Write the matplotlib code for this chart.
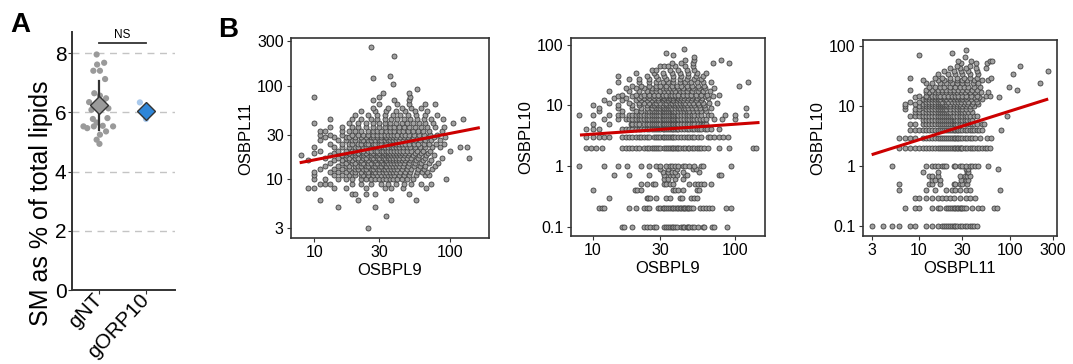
"""
Two-part figure:
  A. SM as % of total lipids, gNT vs gORP10 (strip + mean diamond).
  B. Pairwise OSBPL expression scatter plots on log-log axes with fit line.
"""

import matplotlib

matplotlib.use("Agg")
import matplotlib.pyplot as plt
import numpy as np
from matplotlib.ticker import NullLocator

plt.rcParams["font.family"] = ["Liberation Sans", "DejaVu Sans"]

# ---------------------------------------------------------------------------
# Panel A data
# ---------------------------------------------------------------------------
GROUPS = ["gNT", "gORP10"]
SM_GNT = [7.96, 7.62, 7.68, 7.41, 7.41, 7.13, 6.65, 6.57, 6.48, 6.35, 6.37, 6.14, 6.09,
          5.78, 5.81, 5.66, 5.53, 5.47, 5.53, 5.55, 5.53, 5.36, 5.25, 5.08, 4.94]
SM_GNT_JITTER = [-0.05, -0.04, 0.11, -0.12, 0.02, 0.13, -0.10, 0.02, 0.15, -0.21, 0.09, 0.20, -0.16,
                 -0.13, 0.18, -0.05, -0.33, -0.25, -0.11, 0.08, 0.30, 0.15, 0.02, -0.05, 0.01]
SM_ORP10 = [6.34, 5.78]
SM_ORP10_JITTER = [-0.13, 0.0]
SM_MEAN = [6.26, 6.05]
SM_LOW = [5.40, 5.90]
SM_HIGH = [7.08, 6.20]
NS_LEVEL = 8.35

# ---------------------------------------------------------------------------
# Panel B data: rows of (y value, [x values]) -- expression values are binned
# ---------------------------------------------------------------------------
# OSBPL9 (x) vs OSBPL11 (y)
B1_ROWS = [
    (3, [25]),
    (4, [34]),
    (5, [15, 28]),
    (6, [11, 21, 37, 56]),
    (7, [19, 20, 24, 28, 50]),
    (8, [9, 10, 14, 17, 24, 33, 37, 45, 67]),
    (9, [11, 12, 13, 19, 22, 26, 31, 35, 40, 46, 52, 61, 72]),
    (10, [10, 12, 15, 17, 19, 22, 24, 26, 28, 30, 32, 34, 36, 38, 41, 44, 48, 53, 93]),
    (11, [10, 14, 16, 18, 20, 22, 23, 25, 27, 29, 31, 33, 35, 37, 39, 42, 46, 50, 56, 65, 70]),
    (12, [10, 13, 15, 17, 19, 20, 22, 24, 25, 27, 28, 30, 32, 34, 36, 38, 40, 43, 47, 51, 57, 62, 68]),
    (13, [11, 14, 16, 18, 20, 21, 23, 24, 26, 27, 29, 30, 32, 33, 35, 37, 39, 41, 44, 48, 52, 58, 64, 74]),
    (14, [12, 15, 17, 18, 20, 21, 22, 24, 25, 27, 28, 30, 31, 33, 34, 36, 38, 40, 42, 45, 49, 54, 60, 66, 78]),
    (15, [13, 16, 17, 19, 20, 22, 23, 25, 26, 28, 29, 31, 32, 34, 35, 37, 39, 41, 43, 46, 50, 55, 61, 70, 82]),
    (16, [9, 14, 16, 18, 19, 21, 22, 24, 25, 27, 28, 30, 31, 33, 34, 36, 38, 40, 42, 44, 47, 51, 56, 63, 72]),
    (17, [12, 15, 17, 18, 20, 21, 23, 24, 26, 27, 29, 30, 32, 33, 35, 36, 38, 40, 42, 45, 48, 52, 58, 65, 88, 139]),
    (18, [8, 13, 16, 17, 19, 20, 22, 23, 25, 26, 28, 29, 31, 32, 34, 35, 37, 39, 41, 43, 46, 49, 53, 59, 67, 76]),
    (19, [10, 14, 17, 18, 20, 21, 23, 24, 26, 27, 29, 30, 32, 33, 35, 36, 38, 40, 42, 44, 47, 50, 55, 61, 69]),
    (20, [11, 15, 17, 19, 20, 22, 23, 25, 26, 28, 29, 31, 32, 34, 35, 37, 39, 41, 43, 45, 48, 52, 57, 63, 71, 100]),
    (22, [10, 14, 16, 18, 20, 21, 23, 24, 26, 27, 29, 30, 32, 33, 35, 37, 38, 40, 42, 45, 48, 51, 55, 60, 66, 74, 84, 119, 133]),
    (24, [13, 16, 18, 19, 21, 22, 24, 25, 27, 28, 30, 31, 33, 34, 36, 38, 40, 42, 44, 47, 50, 54, 58, 64, 70, 79, 90]),
    (26, [11, 15, 17, 19, 20, 22, 23, 25, 26, 28, 30, 31, 33, 35, 36, 38, 40, 42, 45, 48, 51, 55, 60, 66, 73, 85]),
    (28, [12, 14, 17, 18, 20, 22, 24, 26, 27, 29, 31, 33, 34, 36, 38, 40, 43, 46, 49, 53, 57, 62, 68, 76, 92]),
    (30, [11, 13, 16, 19, 21, 23, 25, 27, 29, 31, 33, 35, 37, 39, 41, 44, 47, 50, 54, 59, 64, 71, 80]),
    (33, [11, 12, 16, 18, 20, 22, 25, 27, 29, 31, 34, 36, 39, 42, 45, 49, 53, 58, 63, 70, 88]),
    (36, [13, 16, 19, 21, 24, 27, 30, 33, 36, 39, 42, 46, 50, 55, 61, 68, 78, 91]),
    (40, [10, 18, 21, 24, 27, 30, 33, 36, 40, 44, 48, 53, 59, 66, 75, 105]),
    (44, [13, 19, 22, 26, 29, 33, 37, 41, 46, 51, 57, 64, 73, 89, 124]),
    (48, [20, 25, 29, 33, 38, 43, 49, 56, 65, 80]),
    (53, [22, 28, 34, 40, 47, 55, 68]),
    (58, [27, 35, 44, 52, 61]),
    (64, [30, 41, 50, 65, 77]),
    (70, [27, 39, 50]),
    (76, [10, 30, 51]),
    (83, [32, 50]),
    (92, [57]),
    (104, [38]),
    (120, [27]),
    (128, [36]),
    (205, [39]),
    (256, [26]),
]
B1_FIT_X = [7.8, 166]
B1_FIT_Y = [15.0, 35.6]

# OSBPL9 (x) vs OSBPL10 (y)
B2_ROWS = [
    (0.1, [16, 16.5, 19, 23, 24, 25.5, 27, 28, 32, 33, 34, 35, 36, 37, 38, 39.5, 42, 43, 44, 46,
           47, 48, 50, 52, 55, 60, 61, 69, 72, 88]),
    (0.2, [11, 11.5, 12, 18, 20, 23, 24, 25, 29, 30, 31, 32, 33, 34, 35, 36, 37, 38, 39, 40, 41,
           42, 43, 44, 45, 46, 47, 48, 49, 51, 57, 60, 63, 66, 69, 87, 95]),
    (0.3, [13, 24, 24.5, 25.5, 28, 33, 35, 41, 42.5, 49, 52, 54]),
    (0.4, [10, 19.7, 20.5, 21.7, 37, 38, 40, 43, 54, 56]),
    (0.5, [22, 24, 26.5, 27.5, 32, 33, 35, 37, 48, 52.5, 55, 58, 61, 68]),
    (0.6, [32, 34, 38, 43]),
    (0.7, [14, 18, 25, 32, 35, 37, 39, 45, 46, 78, 80]),
    (0.8, [31, 34, 36, 38, 43, 56]),
    (0.9, [30, 34, 39, 51, 53]),
    (1, [8, 12, 15, 17.5, 22, 25, 28, 30, 33, 35, 36, 38, 40, 43, 45, 48, 52, 58, 60, 94]),
    (2, [9, 9.7, 10.5, 11.5, 16, 17, 18, 19, 20, 21, 23, 24, 25, 26, 27, 28, 29, 30, 32, 33, 34,
         35, 36, 37, 38, 39, 40, 41, 43, 45, 47, 48, 50, 52, 54, 56, 58, 61, 65, 78, 92, 135, 142]),
    (3, [9, 10, 11, 12, 13, 16, 17, 18, 19, 20, 21, 22, 23, 24, 25, 27, 28, 29, 30, 31, 32, 33,
         34, 35, 36, 37, 38, 40, 42, 44, 46, 48, 50, 52, 55, 58, 65, 67, 72, 78, 83, 90]),
    (4, [9, 10, 11, 16, 17, 18, 19, 20, 21, 22, 23, 24, 25, 26, 27, 28, 29, 30, 31, 32, 33, 34,
         35, 36, 37, 38, 39, 40, 42, 44, 46, 48, 50, 52, 54, 56, 58, 62, 64, 68, 78]),
    (5, [10, 13, 18.5, 19, 20, 21, 23, 24, 25, 26, 27, 28, 29, 30, 31, 32, 33, 34, 35, 36, 37,
         38, 39, 40, 42, 44, 46, 48, 50, 52, 55, 58, 60, 61, 63]),
    (6, [12, 15, 17, 18, 19, 20, 21, 22, 23, 24, 25, 26, 27, 28, 29, 30, 31, 32, 33, 34, 35, 36,
         37, 38, 39, 40, 42, 44, 46, 48, 50, 52, 54, 57, 60, 63, 72, 82, 100]),
    (7, [8, 10, 13, 15, 16, 18, 19, 20, 21, 22, 23, 24, 25, 26, 27, 28, 29, 30, 31, 32, 33, 34,
         35, 36, 37, 38, 39, 40, 42, 44, 46, 48, 50, 52, 55, 58, 65, 68, 85, 100, 120]),
    (8, [11, 16, 20, 22, 24, 25, 26, 27, 28, 29, 30, 31, 32, 33, 34, 35, 36, 37, 38, 40, 42, 44,
         46, 48, 51, 54, 58, 63]),
    (9, [11, 15, 19, 22, 24, 26, 28, 29, 30, 31, 32, 33, 34, 35, 36, 38, 40, 41, 43, 45, 47, 50,
         53, 57, 62, 68, 121]),
    (10, [10, 15, 19, 21, 24, 26, 27, 29, 30, 31, 33, 34, 35, 37, 38, 40, 42, 44, 46, 49, 52, 56, 61]),
    (11, [13, 18, 21, 23, 25, 27, 28, 30, 32, 33, 35, 36, 38, 39, 41, 43, 45, 48, 51, 55, 60, 66, 75]),
    (12, [12, 16, 20, 22, 24, 26, 28, 29, 31, 33, 34, 36, 37, 39, 41, 43, 46, 49, 53, 58]),
    (13, [14, 17, 21, 23, 25, 27, 29, 31, 32, 34, 35, 37, 39, 40, 42, 44, 47, 50, 54, 59, 65]),
    (14, [15, 19, 22, 24, 26, 28, 30, 32, 33, 35, 37, 38, 40, 42, 45, 48, 51, 56, 62, 70]),
    (15, [16, 20, 23, 25, 27, 29, 31, 33, 35, 36, 38, 40, 43, 46, 49, 53, 58, 64, 78]),
    (17, [13, 18, 21, 24, 26, 28, 30, 32, 34, 36, 38, 41, 43, 46, 50, 55, 60, 67]),
    (19, [17, 20, 23, 26, 28, 31, 33, 35, 37, 40, 43, 47, 51, 56, 62, 72]),
    (21, [19, 22, 25, 28, 30, 33, 36, 39, 42, 46, 50, 55, 61, 107]),
    (24, [15, 21, 25, 28, 31, 34, 37, 41, 45, 49, 54, 60, 68, 125]),
    (27, [18, 21, 25, 29, 33, 37, 41, 46, 52, 58]),
    (30, [15, 24, 28, 32, 37, 42, 47, 53, 60]),
    (34, [20, 27, 31, 36, 41, 47, 54, 63]),
    (38, [26, 28, 35, 40, 46, 52]),
    (44, [30, 32, 34, 38, 45, 51]),
    (50, [36, 42, 51, 71, 91]),
    (55, [45, 52, 80]),
    (63, [52]),
    (67, [37]),
    (73, [33]),
    (85, [44]),
]
B2_FIT_X = [8.1, 150]
B2_FIT_Y = [3.23, 5.2]

# OSBPL11 (x) vs OSBPL10 (y)
B3_ROWS = [
    (0.1, [3, 4, 5, 6, 8, 9, 12, 14, 16, 18, 19, 20, 21, 22, 23, 24, 25, 26, 28, 30, 32, 34, 36, 38, 40, 43]),
    (0.2, [7, 9, 10, 14, 16, 17, 20, 21, 22, 23, 24, 25, 26, 27, 28, 29, 30, 31, 33, 38, 45, 49, 67, 72]),
    (0.3, [9, 10, 12, 14, 16, 18, 20, 22, 24, 28, 33, 36, 41]),
    (0.4, [6, 12, 15, 20, 23, 25, 28, 33, 36, 78]),
    (0.5, [6, 13, 14, 17, 24, 25, 28, 30, 34]),
    (0.6, [14, 15, 17, 29, 33, 35]),
    (0.7, [13, 14, 16, 28, 32, 34, 36]),
    (0.8, [11, 16, 34, 35]),
    (0.9, [33, 35, 75]),
    (1, [5, 12, 14, 15, 16, 18, 19, 20, 24, 25, 28, 30, 33, 36, 38, 41, 45, 57]),
    (2, [6, 7, 8, 9, 10, 11, 12, 13, 14, 15, 16, 17, 18, 19, 20, 21, 22, 23, 24, 25, 26, 27, 28,
         29, 30, 32, 34, 36, 38, 40, 43, 46, 50, 53, 56, 60]),
    (3, [6, 7, 8, 9, 11, 12, 13, 14, 15, 16, 17, 18, 19, 20, 21, 22, 23, 24, 25, 26, 27, 28, 30,
         32, 34, 36, 38, 41, 47, 56, 62]),
    (4, [8, 9, 10, 11, 12, 13, 14, 15, 16, 17, 18, 19, 20, 21, 22, 23, 24, 25, 26, 27, 28, 30,
         32, 34, 36, 38, 40, 43, 46, 50, 79]),
    (5, [8, 9, 11, 12, 13, 14, 15, 16, 17, 18, 19, 20, 21, 22, 23, 24, 25, 26, 28, 30, 32, 34,
         36, 38, 40, 43, 50, 52]),
    (6, [11, 12, 13, 14, 15, 16, 17, 18, 19, 20, 21, 22, 23, 24, 25, 26, 28, 30, 32, 34, 36, 38]),
    (7, [8, 9, 10, 11, 12, 13, 14, 15, 16, 17, 18, 19, 20, 21, 22, 23, 24, 26, 28, 30, 32, 34,
         36, 40, 43, 92]),
    (8, [9, 10, 11, 12, 13, 14, 15, 16, 17, 18, 19, 20, 21, 22, 24, 26, 28, 30, 32, 35, 38]),
    (9, [7, 9, 10, 12, 13, 14, 15, 16, 17, 18, 19, 20, 22, 24, 26, 28, 30, 33, 36]),
    (10, [7, 10, 11, 12, 13, 14, 15, 16, 17, 18, 19, 20, 21, 22, 24, 26, 28, 30, 33, 36, 40]),
    (11, [7, 9, 11, 12, 13, 14, 15, 16, 17, 18, 19, 20, 22, 24, 26, 28, 31, 34, 38, 45]),
    (12, [8, 10, 12, 13, 14, 15, 16, 17, 18, 20, 21, 23, 25, 27, 29, 32, 35, 39, 44]),
    (13, [11, 12, 13, 14, 15, 16, 17, 19, 20, 22, 24, 26, 28, 30, 33, 37, 42, 50]),
    (14, [9, 12, 13, 14, 15, 16, 18, 19, 21, 23, 25, 27, 29, 32, 35, 40, 46, 77]),
    (15, [10, 12, 14, 15, 16, 17, 19, 21, 23, 25, 27, 30, 33, 37, 43, 55, 60]),
    (17, [12, 13, 15, 16, 18, 20, 22, 24, 26, 29, 32, 36, 41, 48, 57]),
    (19, [8, 12, 14, 16, 18, 20, 22, 24, 27, 30, 34, 38, 44, 119]),
    (21, [13, 15, 17, 19, 22, 25, 28, 31, 35, 40, 47, 97]),
    (24, [12, 14, 17, 20, 23, 26, 30, 34, 39, 45, 216]),
    (27, [11, 16, 19, 22, 26, 30, 34, 40, 50, 58]),
    (30, [8, 15, 18, 22, 26, 31, 36, 43, 62]),
    (34, [16, 21, 25, 30, 36, 45, 108]),
    (38, [19, 24, 29, 35, 44, 267]),
    (43, [22, 28, 33, 42, 55]),
    (47, [26, 36, 130]),
    (52, [29, 42, 56]),
    (57, [27, 37, 60, 64]),
    (67, [32]),
    (71, [10]),
    (77, [23]),
    (87, [33]),
]
B3_FIT_X = [3.0, 265]
B3_FIT_Y = [1.56, 13.2]

# ---------------------------------------------------------------------------
# Style
# ---------------------------------------------------------------------------
W, H = 1073, 364
DARK = "#333333"
POINT_FACE = "#a0a0a0"
POINT_EDGE = "#404040"
FIT_RED = "#cc0000"
BLUE = "#2f86d8"


def frac_box(left, right, top, bottom):
    """Pixel box -> figure-fraction rect."""
    return [left / W, 1 - bottom / H, (right - left) / W, (bottom - top) / H]


def expand_rows(rows):
    xs, ys = [], []
    for y, row in rows:
        xs.extend(row)
        ys.extend([y] * len(row))
    return np.array(xs, dtype=float), np.array(ys, dtype=float)


def draw_panel_a(fig):
    ax = fig.add_axes(frac_box(72, 175, 32, 290))
    ax.set_xlim(-0.574, 1.617)
    ax.set_ylim(0, 8.72)

    for yv in [2, 4, 6, 8]:
        ax.axhline(yv, color="#c4c4c4", lw=1.0, dashes=(5, 4), zorder=0)

    x0 = np.zeros(len(SM_GNT)) + np.array(SM_GNT_JITTER)
    ax.scatter(x0, SM_GNT, s=20, color="#9a9a9a", edgecolors="none", zorder=2)
    x1 = np.ones(len(SM_ORP10)) + np.array(SM_ORP10_JITTER)
    ax.scatter(x1, SM_ORP10, s=20, color="#a9c9ec", edgecolors="none", zorder=2)

    for i, face in enumerate(["#9a9a9a", BLUE]):
        ax.plot([i, i], [SM_LOW[i], SM_HIGH[i]], color=DARK, lw=1.6, zorder=3)
        ax.plot(i, SM_MEAN[i], marker="D", ms=9.5, mfc=face, mec=DARK, mew=1.0, zorder=4)

    ax.plot([0, 1], [NS_LEVEL, NS_LEVEL], color=DARK, lw=1.3, clip_on=False)
    ax.text(0.5, NS_LEVEL + 0.08, "NS", ha="center", va="bottom", fontsize=8.5)

    for side in ["top", "right"]:
        ax.spines[side].set_visible(False)
    for side in ["left", "bottom"]:
        ax.spines[side].set_color(DARK)
        ax.spines[side].set_linewidth(1.4)

    ax.set_yticks([0, 2, 4, 6, 8])
    ax.set_xticks([0, 1])
    ax.set_xticklabels(GROUPS, rotation=47, ha="right", va="center", rotation_mode="anchor")
    ax.tick_params(axis="y", labelsize=15, length=3, color=DARK, pad=1)
    ax.tick_params(axis="x", labelsize=15, length=3, color=DARK, pad=2)

    fig.text(41.5 / W, 1 - 203 / H, "SM as % of total lipids", rotation=90,
             ha="center", va="center", fontsize=18)
    fig.text(10 / W, 1 - 32 / H, "A", fontsize=20, fontweight="bold", va="baseline")


def draw_scatter(fig, rect, rows, fit_x, fit_y, xlim, ylim, xticks, yticks, xlabel, ylabel):
    ax = fig.add_axes(rect)
    x, y = expand_rows(rows)
    ax.scatter(x, y, s=13, facecolor=POINT_FACE, edgecolors=POINT_EDGE, linewidths=0.6, zorder=2)
    ax.plot(fit_x, fit_y, color=FIT_RED, lw=2.2, zorder=3, solid_capstyle="butt")

    ax.set_xscale("log")
    ax.set_yscale("log")
    ax.set_xlim(*xlim)
    ax.set_ylim(*ylim)
    ax.set_xticks(xticks)
    ax.set_xticklabels([f"{t:g}" for t in xticks])
    ax.set_yticks(yticks)
    ax.set_yticklabels([f"{t:g}" for t in yticks])
    ax.xaxis.set_minor_locator(NullLocator())
    ax.yaxis.set_minor_locator(NullLocator())
    ax.tick_params(labelsize=11.5, length=3, color=DARK, pad=2)

    for sp in ax.spines.values():
        sp.set_color(DARK)
        sp.set_linewidth(1.2)

    ax.set_xlabel(xlabel, fontsize=12, labelpad=2)
    ax.set_ylabel(ylabel, fontsize=12, labelpad=3)
    return ax


def main():
    fig = plt.figure(figsize=(W / 100, H / 100), dpi=100)

    draw_panel_a(fig)

    draw_scatter(fig, frac_box(290.7, 488.7, 38.3, 238.3), B1_ROWS, B1_FIT_X, B1_FIT_Y,
                 (6.7, 193), (2.34, 320), [10, 30, 100], [3, 10, 30, 100, 300],
                 "OSBPL9", "OSBPL11")
    draw_scatter(fig, frac_box(570.7, 765, 38.3, 236), B2_ROWS, B2_FIT_X, B2_FIT_Y,
                 (6.97, 164), (0.070, 127), [10, 30, 100], [0.1, 1, 10, 100],
                 "OSBPL9", "OSBPL10")
    draw_scatter(fig, frac_box(862.7, 1057.3, 40, 236), B3_ROWS, B3_FIT_X, B3_FIT_Y,
                 (2.39, 334), (0.069, 127), [3, 10, 30, 100, 300], [0.1, 1, 10, 100],
                 "OSBPL11", "OSBPL10")

    fig.text(218 / W, 1 - 37 / H, "B", fontsize=20, fontweight="bold", va="baseline")

    fig.savefig("out.png", dpi=100)
    plt.close(fig)


if __name__ == "__main__":
    main()
